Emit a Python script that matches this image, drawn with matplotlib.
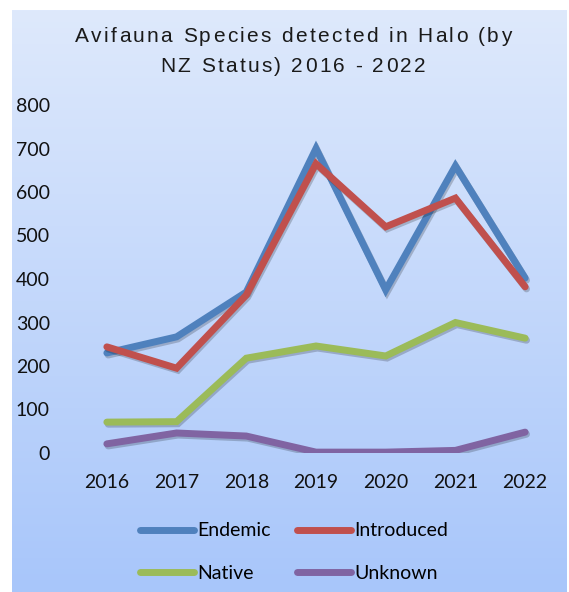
import numpy as np
import matplotlib
matplotlib.use("Agg")
import matplotlib.pyplot as plt
import matplotlib.patheffects as pe
from matplotlib.font_manager import FontProperties, findfont, get_font, fontManager

years = ['2016', '2017', '2018', '2019', '2020', '2021', '2022']
endemic = [230, 267, 370, 700, 375, 660, 402]
introduced = [244, 195, 363, 665, 520, 586, 382]
native = [71, 72, 218, 246, 223, 300, 264]
unknown = [21, 46, 39, 2, 2, 6, 48]

series = [('Endemic', endemic, '#4F81BD'),
          ('Introduced', introduced, '#C0504D'),
          ('Native', native, '#9BBB59'),
          ('Unknown', unknown, '#8064A2')]

W, H = 569, 592
fig = plt.figure(figsize=(W / 100, H / 100), dpi=100, facecolor='white')

# gradient background panel
bg = fig.add_axes([12 / W, 0, 1 - 14 / W, 1 - 10 / H])
bg.axis('off')
top = np.array([0xde, 0xe9, 0xfc]) / 255
bot = np.array([0xa8, 0xc6, 0xfa]) / 255
t = np.linspace(0, 1, 256)[:, None]
grad = top * (1 - t) + bot * t
img = np.repeat(grad[:, None, :], 2, axis=1)
bg.imshow(img, aspect='auto', extent=[0, 1, 0, 1], origin='upper')
bg.set_xlim(0, 1)
bg.set_ylim(0, 1)

ax = fig.add_axes([72 / W, 1 - 453 / H, 488 / W, 348 / H])
ax.patch.set_alpha(0)
x = np.arange(len(years))
for name, vals, col in series:
    ax.plot(x, vals, color=col, lw=5, label=name, solid_capstyle='round',
            solid_joinstyle='miter',
            path_effects=[pe.SimpleLineShadow(offset=(1, -1.5), alpha=0.2),
                          pe.Normal()])

ax.set_xlim(-0.5, len(years) - 0.5)
ax.set_ylim(0, 800)
ax.set_yticks(range(0, 801, 100))
ax.set_xticks(x)
ax.set_xticklabels(years)
for s in ax.spines.values():
    s.set_visible(False)
ax.tick_params(length=0, labelsize=14, colors='#111111')
ax.tick_params(axis='y', pad=16)
ax.tick_params(axis='x', pad=15)
for lab in ax.get_xticklabels() + ax.get_yticklabels():
    lab.set_family('Lato')

names = {f.name for f in fontManager.ttflist}
title_font = 'Liberation Sans Narrow' if 'Liberation Sans Narrow' in names else 'Liberation Sans'
title_size = 16.5 if title_font == 'Liberation Sans Narrow' else 15


def spaced_text(s, cx, y, size, width, family):
    # place characters one by one so the line gets letter spacing
    font = get_font(findfont(FontProperties(family=family)))
    font.set_size(size, 100)
    adv = []
    for c in s:
        g = font.load_char(ord(c))
        adv.append(g.linearHoriAdvance / 65536)
    track = (width - sum(adv)) / (len(s) - 1)
    xpos = cx - width / 2
    for c, a in zip(s, adv):
        fig.text(xpos / W, 1 - y / H, c, ha='left', va='baseline',
                 fontsize=size, family=family, color='#1a1a1a')
        xpos += a + track


spaced_text('Avifauna Species detected in Halo (by', 293, 42, title_size, 437, title_font)
spaced_text('NZ Status) 2016 - 2022', 293, 72, title_size, 265, title_font)

handles, labels = ax.get_legend_handles_labels()
order = [0, 2, 1, 3]
leg = fig.legend([handles[i] for i in order], [labels[i] for i in order],
                 loc='center', bbox_to_anchor=(294 / W, 1 - 552 / H), ncol=2,
                 frameon=False, handlelength=2.8, handletextpad=0.15,
                 columnspacing=1.35, labelspacing=1.3,
                 prop={'family': 'Lato', 'size': 14})
for h in leg.legend_handles:
    h.set_path_effects([])
    h.set_linewidth(5)

fig.savefig('out.png', dpi=100, facecolor='white')
